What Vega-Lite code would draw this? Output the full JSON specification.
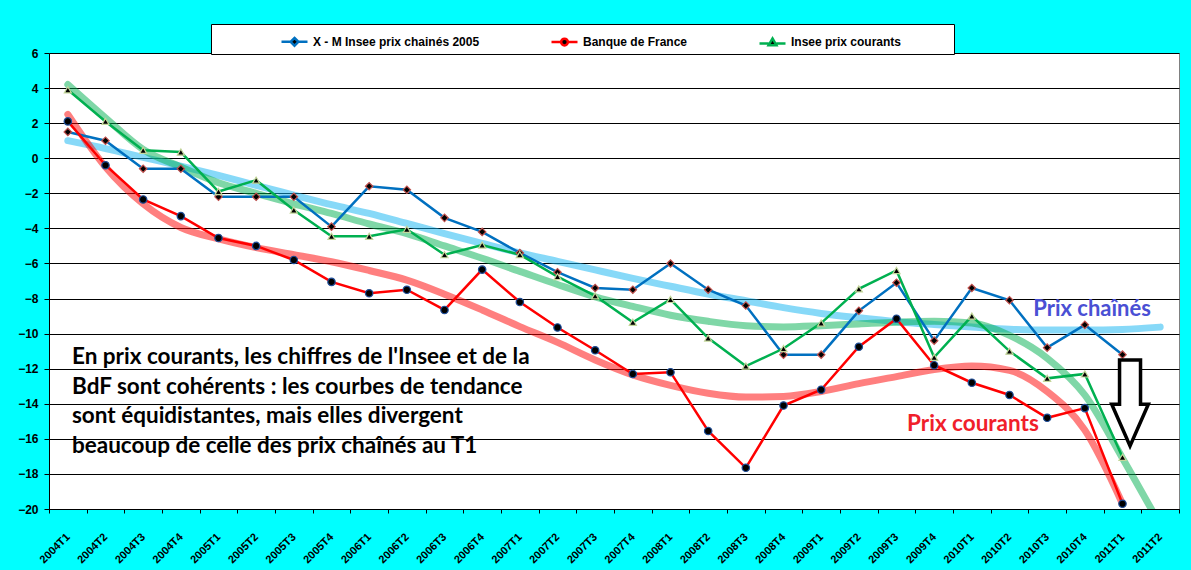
{
  "$schema": "https://vega.github.io/schema/vega-lite/v6.json",
  "description": "X - M : Insee prix chaînés, Banque de France, Insee prix courants, avec courbes de tendance",
  "width": 1130,
  "height": 456,
  "autosize": {"type": "none"},
  "padding": {"left": 49, "top": 53, "right": 12, "bottom": 61},
  "background": "#00ffff",
  "config": {
    "view": {"fill": "white", "stroke": "#808080", "strokeWidth": 1},
    "font": "Liberation Sans"
  },
  "data": {
    "values": [
      {"q": "2004T1", "xm": 1.5, "bdf": 2.1, "ins": 3.9, "txm": 1.0, "tbdf": 2.5, "tins": 4.2},
      {"q": "2004T2", "xm": 1.0, "bdf": -0.4, "ins": 2.1, "txm": 0.55, "tbdf": -0.5, "tins": 2.3},
      {"q": "2004T3", "xm": -0.6, "bdf": -2.35, "ins": 0.45, "txm": 0.05, "tbdf": -2.6, "tins": 0.5},
      {"q": "2004T4", "xm": -0.6, "bdf": -3.3, "ins": 0.35, "txm": -0.45, "tbdf": -3.95, "tins": -0.5},
      {"q": "2005T1", "xm": -2.2, "bdf": -4.55, "ins": -1.9, "txm": -0.98, "tbdf": -4.6, "tins": -1.4},
      {"q": "2005T2", "xm": -2.2, "bdf": -5.0, "ins": -1.25, "txm": -1.55, "tbdf": -5.1, "tins": -2.0},
      {"q": "2005T3", "xm": -2.2, "bdf": -5.8, "ins": -2.95, "txm": -2.1, "tbdf": -5.5, "tins": -2.6},
      {"q": "2005T4", "xm": -3.9, "bdf": -7.05, "ins": -4.45, "txm": -2.65, "tbdf": -5.9, "tins": -3.15},
      {"q": "2006T1", "xm": -1.6, "bdf": -7.7, "ins": -4.45, "txm": -3.15, "tbdf": -6.4, "tins": -3.75},
      {"q": "2006T2", "xm": -1.8, "bdf": -7.5, "ins": -4.05, "txm": -3.72, "tbdf": -6.95, "tins": -4.3},
      {"q": "2006T3", "xm": -3.4, "bdf": -8.65, "ins": -5.5, "txm": -4.3, "tbdf": -7.75, "tins": -5.0},
      {"q": "2006T4", "xm": -4.2, "bdf": -6.35, "ins": -4.95, "txm": -4.85, "tbdf": -8.65, "tins": -5.7},
      {"q": "2007T1", "xm": -5.4, "bdf": -8.2, "ins": -5.5, "txm": -5.4, "tbdf": -9.6, "tins": -6.45},
      {"q": "2007T2", "xm": -6.5, "bdf": -9.65, "ins": -6.75, "txm": -5.88, "tbdf": -10.5, "tins": -7.2},
      {"q": "2007T3", "xm": -7.4, "bdf": -10.95, "ins": -7.85, "txm": -6.37, "tbdf": -11.5, "tins": -7.9},
      {"q": "2007T4", "xm": -7.5, "bdf": -12.3, "ins": -9.35, "txm": -6.85, "tbdf": -12.35, "tins": -8.45},
      {"q": "2008T1", "xm": -6.0, "bdf": -12.2, "ins": -8.05, "txm": -7.3, "tbdf": -12.95, "tins": -8.95},
      {"q": "2008T2", "xm": -7.5, "bdf": -15.55, "ins": -10.25, "txm": -7.74, "tbdf": -13.4, "tins": -9.3},
      {"q": "2008T3", "xm": -8.4, "bdf": -17.65, "ins": -11.85, "txm": -8.13, "tbdf": -13.62, "tins": -9.55},
      {"q": "2008T4", "xm": -11.2, "bdf": -14.1, "ins": -10.85, "txm": -8.52, "tbdf": -13.58, "tins": -9.62},
      {"q": "2009T1", "xm": -11.2, "bdf": -13.2, "ins": -9.4, "txm": -8.85, "tbdf": -13.3, "tins": -9.55},
      {"q": "2009T2", "xm": -8.7, "bdf": -10.75, "ins": -7.45, "txm": -9.1, "tbdf": -12.85, "tins": -9.45},
      {"q": "2009T3", "xm": -7.1, "bdf": -9.15, "ins": -6.4, "txm": -9.32, "tbdf": -12.45, "tins": -9.35},
      {"q": "2009T4", "xm": -10.4, "bdf": -11.8, "ins": -11.35, "txm": -9.48, "tbdf": -12.05, "tins": -9.3},
      {"q": "2010T1", "xm": -7.4, "bdf": -12.8, "ins": -9.0, "txm": -9.62, "tbdf": -11.85, "tins": -9.4},
      {"q": "2010T2", "xm": -8.1, "bdf": -13.5, "ins": -11.0, "txm": -9.75, "tbdf": -12.1, "tins": -10.1},
      {"q": "2010T3", "xm": -10.8, "bdf": -14.8, "ins": -12.55, "txm": -9.8, "tbdf": -13.3, "tins": -11.4},
      {"q": "2010T4", "xm": -9.5, "bdf": -14.25, "ins": -12.3, "txm": -9.8, "tbdf": -15.5, "tins": -13.5},
      {"q": "2011T1", "xm": -11.2, "bdf": -19.7, "ins": -17.05, "txm": -9.76, "tbdf": -19.7, "tins": -17.1},
      {"q": "2011T2", "txm": -9.63, "tins": -20.9}
    ]
  },
  "encoding": {
    "x": {
      "field": "q",
      "type": "ordinal",
      "bandPosition": 0.5,
      "title": null,
      "scale": {
        "type": "band",
        "paddingInner": 0,
        "paddingOuter": 0,
        "domain": ["2004T1", "2004T2", "2004T3", "2004T4", "2005T1", "2005T2", "2005T3", "2005T4", "2006T1", "2006T2", "2006T3", "2006T4", "2007T1", "2007T2", "2007T3", "2007T4", "2008T1", "2008T2", "2008T3", "2008T4", "2009T1", "2009T2", "2009T3", "2009T4", "2010T1", "2010T2", "2010T3", "2010T4", "2011T1", "2011T2"]
      },
      "axis": {
        "tickBand": "extent",
        "tickSize": 4,
        "tickColor": "black",
        "domainColor": "black",
        "grid": false,
        "labelAngle": -45,
        "labelAlign": "right",
        "labelBaseline": "middle",
        "labelPadding": 22,
        "labelFont": "Liberation Sans",
        "labelFontWeight": "bold",
        "labelFontSize": 11,
        "labelColor": "black"
      }
    },
    "y": {
      "field": "v",
      "type": "quantitative",
      "title": null,
      "scale": {"domain": [-20, 6], "nice": false, "zero": false},
      "axis": {
        "values": [-20, -18, -16, -14, -12, -10, -8, -6, -4, -2, 0, 2, 4, 6],
        "grid": true,
        "gridColor": "black",
        "gridOpacity": 1,
        "gridWidth": 1,
        "tickSize": 5,
        "tickColor": "black",
        "domainColor": "black",
        "labelPadding": 6,
        "labelFont": "Liberation Sans",
        "labelFontWeight": "bold",
        "labelFontSize": 12,
        "labelColor": "black"
      }
    }
  },
  "layer": [
    {
      "transform": [{"fold": ["txm", "tbdf", "tins"], "as": ["s", "v"]}],
      "mark": {"type": "line", "strokeWidth": 7, "strokeOpacity": 0.5, "interpolate": "monotone", "clip": true, "strokeCap": "round"},
      "encoding": {
        "stroke": {
          "field": "s",
          "type": "nominal",
          "scale": {"domain": ["txm", "tbdf", "tins"], "range": ["#0fb4f2", "#ff0000", "#00b050"]},
          "legend": null
        }
      }
    },
    {
      "transform": [{"fold": ["xm", "bdf", "ins"], "as": ["s", "v"]}],
      "mark": {"type": "line", "strokeWidth": 2.5},
      "encoding": {
        "color": {
          "field": "s",
          "type": "nominal",
          "scale": {"domain": ["xm", "bdf", "ins"], "range": ["#0070c0", "#ff0000", "#00b050"]},
          "legend": {
            "title": " ",
            "titleOrient": "right",
            "titlePadding": 50,
            "orient": "none",
            "legendX": 162,
            "legendY": -29,
            "direction": "horizontal",
            "fillColor": "white",
            "strokeColor": "black",
            "padding": 3,
            "symbolType": "M-1,0H1",
            "symbolSize": 676,
            "symbolStrokeWidth": 2.5,
            "symbolOffset": 66,
            "columnPadding": 4,
            "labelOffset": 4,
            "labelLimit": 400,
            "labelFont": "Liberation Sans",
            "labelFontWeight": "bold",
            "labelFontSize": 12,
            "labelColor": "black",
            "labelExpr": "datum.value == 'xm' ? 'X - M Insee prix chainés 2005' : datum.value == 'bdf' ? 'Banque de France' : 'Insee prix courants'",
            "encode": {
              "symbols": {
                "update": {
                  "fill": {"value": "black"},
                  "shape": {"signal": "datum.value == 'xm' ? 'M-1,0H-0.3M0.3,0H1M0,-0.3L0.3,0L0,0.3L-0.3,0Z' : datum.value == 'bdf' ? 'M-1,0H-0.26M0.26,0H1M-0.26,0A0.26,0.26,0,1,0,0.26,0A0.26,0.26,0,1,0,-0.26,0Z' : 'M-1,0.1H-0.3M0.3,0.1H1M0,-0.3L0.3,0.22L-0.3,0.22Z'"}
                }
              }
            }
          }
        }
      }
    },
    {
      "transform": [{"filter": "datum.xm != null"}],
      "mark": {"type": "point", "shape": "diamond", "filled": true, "fill": "black", "stroke": "#c0504d", "strokeWidth": 1.2, "opacity": 1, "size": 55},
      "encoding": {"y": {"field": "xm", "type": "quantitative", "title": null}}
    },
    {
      "transform": [{"filter": "datum.bdf != null"}],
      "mark": {"type": "point", "shape": "circle", "filled": true, "fill": "black", "stroke": "#1f4e99", "strokeWidth": 1.2, "opacity": 1, "size": 55},
      "encoding": {"y": {"field": "bdf", "type": "quantitative", "title": null}}
    },
    {
      "transform": [{"filter": "datum.ins != null"}],
      "mark": {"type": "point", "shape": "triangle-up", "filled": true, "fill": "black", "stroke": "#c4d79b", "strokeWidth": 1.2, "opacity": 1, "size": 50},
      "encoding": {"y": {"field": "ins", "type": "quantitative", "title": null}}
    },
    {
      "data": {"values": [{"q": "2004T1", "v": -11.35, "t": "En prix courants, les chiffres de l'Insee et de la\nBdF sont cohérents : les courbes de tendance\nsont équidistantes, mais elles divergent\nbeaucoup de celle des prix chaînés au T1"}]},
      "mark": {"type": "text", "align": "left", "baseline": "middle", "lineBreak": "\n", "lineHeight": 29.5, "font": "Lato", "fontWeight": "bold", "fontSize": 22.5, "color": "black"},
      "encoding": {
        "x": {"field": "q", "type": "ordinal", "bandPosition": 0.61, "title": null},
        "text": {"field": "t"}
      }
    },
    {
      "data": {"values": [{"q": "2010T3", "v": -8.62, "t": "Prix chaînés"}]},
      "mark": {"type": "text", "align": "left", "baseline": "middle", "font": "Lato", "fontWeight": "bold", "fontSize": 22, "color": "#4a50d4"},
      "encoding": {
        "x": {"field": "q", "type": "ordinal", "bandPosition": 0.13, "title": null},
        "text": {"field": "t"}
      }
    },
    {
      "data": {"values": [{"q": "2009T3", "v": -15.16, "t": "Prix courants"}]},
      "mark": {"type": "text", "align": "left", "baseline": "middle", "font": "Lato", "fontWeight": "bold", "fontSize": 22.5, "color": "#f0202a"},
      "encoding": {
        "x": {"field": "q", "type": "ordinal", "bandPosition": 0.78, "title": null},
        "text": {"field": "t"}
      }
    },
    {
      "data": {"values": [{"q": "2011T1", "v": -13.95}]},
      "mark": {"type": "point", "filled": true, "fill": "white", "stroke": "black", "strokeWidth": 3.5, "opacity": 1, "strokeJoin": "miter",
        "shape": "M-0.244,-1L0.244,-1L0.244,0.03L0.426,0.03L0,1L-0.426,0.03L-0.244,0.03Z", "size": 7396},
      "encoding": {
        "x": {"field": "q", "type": "ordinal", "bandPosition": 0.7, "title": null}
      }
    }
  ]
}
